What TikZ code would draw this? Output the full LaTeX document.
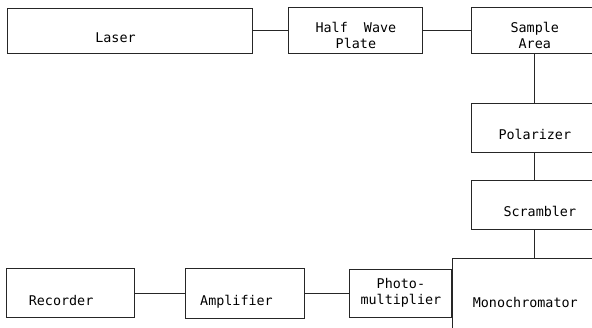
\documentclass[tikz,border=0pt]{standalone}
\usepackage{fontspec}
\newfontfamily\typewr{DejaVu Sans Mono}
\usepackage{tikz}
\usetikzlibrary{positioning}

\begin{document}
\begin{tikzpicture}[
  x=1pt,y=1pt,
  font=\typewr\fontsize{13.4}{16}\selectfont,
  box/.style={draw=black!85,line width=0.9pt,fill=white,align=center,inner sep=3pt},
  low/.style={text height=24pt,text depth=0pt},
  lowtwo/.style={text height=36pt},
  wire/.style={draw=black!85,line width=0.9pt}]
  \useasboundingbox (0,0) rectangle (592,327);
  \clip (0,0) rectangle (592,327);
  % top row
  \node[box,low,minimum width=245pt,minimum height=45pt] (laser) at (129.5,296.5) {Laser\hspace*{28pt}};
  \node[box,lowtwo,minimum width=134pt,minimum height=46pt,right=36pt of laser] (hwp) {Half~ Wave\\Plate};
  \node[box,lowtwo,minimum width=126pt,minimum height=46pt,right=48pt of hwp] (sample) {Sample\\Area};
  % right column
  \node[box,low,minimum width=126pt,minimum height=49pt,below=49pt of sample] (pol) {Polarizer};
  \node[box,low,minimum width=126pt,minimum height=49pt,below=27pt of pol] (scr) {\hspace*{10pt}Scrambler};
  \node[box,minimum width=145pt,minimum height=88pt,below=28pt of scr,xshift=-9.5pt] (mono) {Monochromator};
  % bottom row
  \node[box,minimum width=102pt,minimum height=48pt,left=0pt of mono,yshift=9pt] (pm) {Photo-\\multiplier};
  \node[box,low,minimum width=119pt,minimum height=50pt,left=45pt of pm] (amp) {Amplifier\hspace*{16pt}};
  \node[box,low,minimum width=128pt,minimum height=49pt,left=50pt of amp] (rec) {Recorder\hspace*{18pt}};
  \draw[wire] (hwp.west) -- (hwp.west -| laser.east);
  \draw[wire] (hwp) -- (sample);
  \draw[wire] (sample) -- (pol); \draw[wire] (pol) -- (scr);
  \draw[wire] (scr.south) -- (scr.south |- mono.north);
  \draw[wire] (amp) -- (pm);
  \draw[wire] (amp.west) -- (amp.west -| rec.east);
\end{tikzpicture}
\end{document}
